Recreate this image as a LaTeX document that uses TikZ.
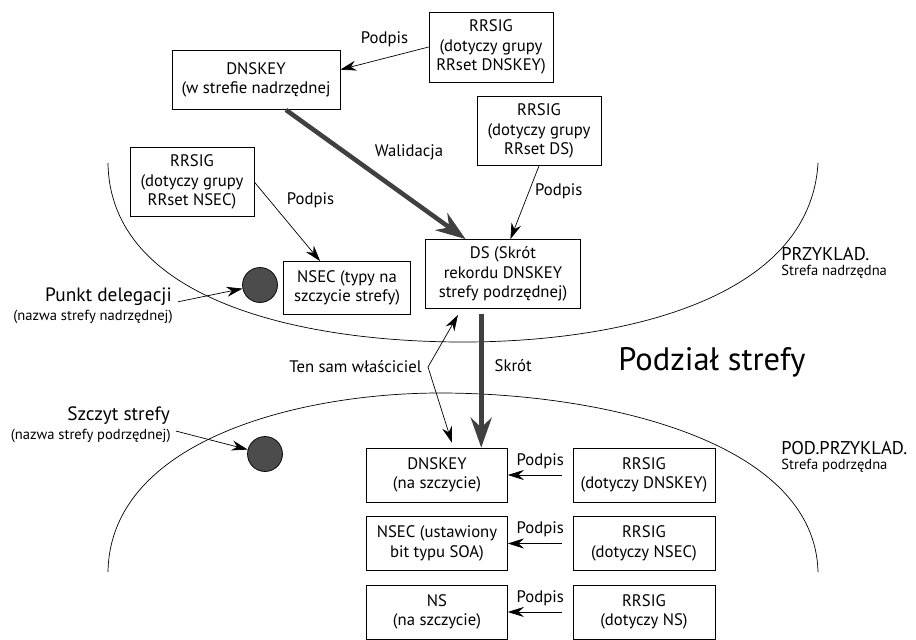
\documentclass[tikz,border=0pt]{standalone}
\usepackage{fontspec}
\setmainfont{PT Sans}
\usetikzlibrary{arrows, arrows.meta}

\begin{document}
\begin{tikzpicture}[
            x = 0.02cm, y = -0.02cm, % one unit = one pixel, y grows downwards
            > = {Stealth[length=3.2mm, width=2mm]}, % arrow head style
            auto,
            node distance = 1.37cm, % distance between stacked records
            font = \fontsize{9.5}{11}\selectfont
        ]

        \useasboundingbox (0,0) rectangle (916,639);

        \tikzstyle{record}=[
            draw = black,
            align = center,
            inner sep = 2pt
        ]
        \tikzstyle{bigarrow}=[
            color = black!75, % only the edge is stroked
            line width = 2.6pt,
            -{Stealth[length=6mm, width=4.2mm]}
        ]
        \tikzstyle{cut}=[
            draw = black,
            circle,
            fill = black!70,
            minimum size = 0.7cm,
            inner sep = 0pt
        ]

        % zone borders
        \draw (108,163) .. controls (110,300) and (300,342) .. (463,342)
                        .. controls (620,342) and (810,300) .. (818,163);
        \draw (108,572) .. controls (110,440) and (300,393) .. (440,393)
                        .. controls (600,393) and (815,440) .. (818,572);

        % parent zone
        \node[record, minimum width=3.36cm, minimum height=1.18cm] (key1) at (256,80)
            {DNSKEY\\(w strefie nadrzędnej};
        \node[record, minimum width=2.48cm, minimum height=1.4cm] (sig1) at (491,47)
            {RRSIG\\(dotyczy grupy\\RRset DNSKEY)};
        \node[record, minimum width=2.48cm, minimum height=1.38cm] (sigds) at (539,131)
            {RRSIG\\(dotyczy grupy\\RRset DS)};
        \node[record, minimum width=2.48cm, minimum height=1.38cm] (signsec1) at (192,182)
            {RRSIG\\(dotyczy grupy\\RRset NSEC)};
        \node[record, minimum width=2.54cm, minimum height=1.06cm] (nsec1) at (347,288)
            {NSEC (typy na\\szczycie strefy)};
        \node[record, minimum width=3.1cm, minimum height=1.38cm] (ds) at (503,274)
            {DS (Skrót\\rekordu DNSKEY\\strefy podrzędnej)};

        \node[cut] (deleg) at (260,285) {};
        \node[anchor=east, font=\fontsize{11}{13}\selectfont] (delegtxt) at (178,297) {Punkt delegacji};
        \node[anchor=north east, font=\fontsize{8.3}{9}\selectfont, inner sep=0pt] (delegsub) at (173,310)
            {(nazwa strefy nadrzędnej)};

        \node[anchor=west, font=\fontsize{10.5}{12}\selectfont, inner sep=0pt] (zone1) at (781,254) {PRZYKLAD.};
        \node[anchor=north west, font=\fontsize{8.3}{9}\selectfont, inner sep=0pt] (zone1sub) at (781,265)
            {Strefa nadrzędna};

        % delegation
        \node[font=\fontsize{18.5}{22}\selectfont] (split) at (712,362) {Podział strefy};
        \node[anchor=east] (owner) at (428,367) {Ten sam właściciel};

        % child zone
        \node[record, minimum width=2.82cm, minimum height=1.08cm] (key2) at (437,475)
            {DNSKEY\\(na szczycie)};
        \node[record, minimum width=2.82cm, minimum height=1.08cm] (nsec2) [below of=key2]
            {NSEC (ustawiony\\bit typu SOA)};
        \node[record, minimum width=2.82cm, minimum height=1.08cm] (ns2) [below of=nsec2]
            {NS\\(na szczycie)};
        \node[record, minimum width=2.84cm, minimum height=1.08cm] (sigkey2) [right of=key2, node distance=4.14cm]
            {RRSIG\\(dotyczy DNSKEY)};
        \node[record, minimum width=2.84cm, minimum height=1.08cm] (signsec2) [right of=nsec2, node distance=4.14cm]
            {RRSIG\\(dotyczy NSEC)};
        \node[record, minimum width=2.84cm, minimum height=1.08cm] (signs2) [right of=ns2, node distance=4.14cm]
            {RRSIG\\(dotyczy NS)};

        \node[cut] (apex) at (265,454) {};
        \node[anchor=east, font=\fontsize{11}{13}\selectfont] (apextxt) at (176,416) {Szczyt strefy};
        \node[anchor=north east, font=\fontsize{8.3}{9}\selectfont, inner sep=0pt] (apexsub) at (171,429)
            {(nazwa strefy podrzędnej)};

        \node[anchor=west, font=\fontsize{10.5}{12}\selectfont, inner sep=0pt] (zone2) at (781,448) {POD.PRZYKLAD.};
        \node[anchor=north west, font=\fontsize{8.3}{9}\selectfont, inner sep=0pt] (zone2sub) at (781,459)
            {Strefa podrzędna};

        % signatures and links
        \path[->] (sig1.west) edge node[above=3pt] {Podpis} (key1.7);
        \path[->] (sigds.south) edge node[right, pos=0.35] {Podpis} (ds.78);
        \path[->] (signsec1.east) edge node[above right, pos=0.4] {Podpis} (nsec1.135);
        \path[bigarrow] (key1.-45) edge node[above right, pos=0.45, text=black] {Walidacja} (ds.137);
        \path[bigarrow, shorten <= 3pt] (ds.-122) edge node[right=3pt, pos=0.41, text=black] {Skrót} (ds.-122 |- key2.north);
        \path[->, shorten > = 4pt] (owner.east) edge (ds.-140);
        \path[->, shorten > = 3pt] (owner.east) edge (key2.59);
        \path[->] (delegtxt.base east) edge (deleg);
        \path[->] (apextxt.south east) edge (apex);

        \path[->, shorten <= 6pt] (sigkey2) edge node[above] {Podpis} (key2);
        \path[->, shorten <= 6pt] (signsec2) edge node[above] {Podpis} (nsec2);
        \path[->, shorten <= 6pt] (signs2) edge node[above] {Podpis} (ns2);
    \end{tikzpicture}
\end{document}
